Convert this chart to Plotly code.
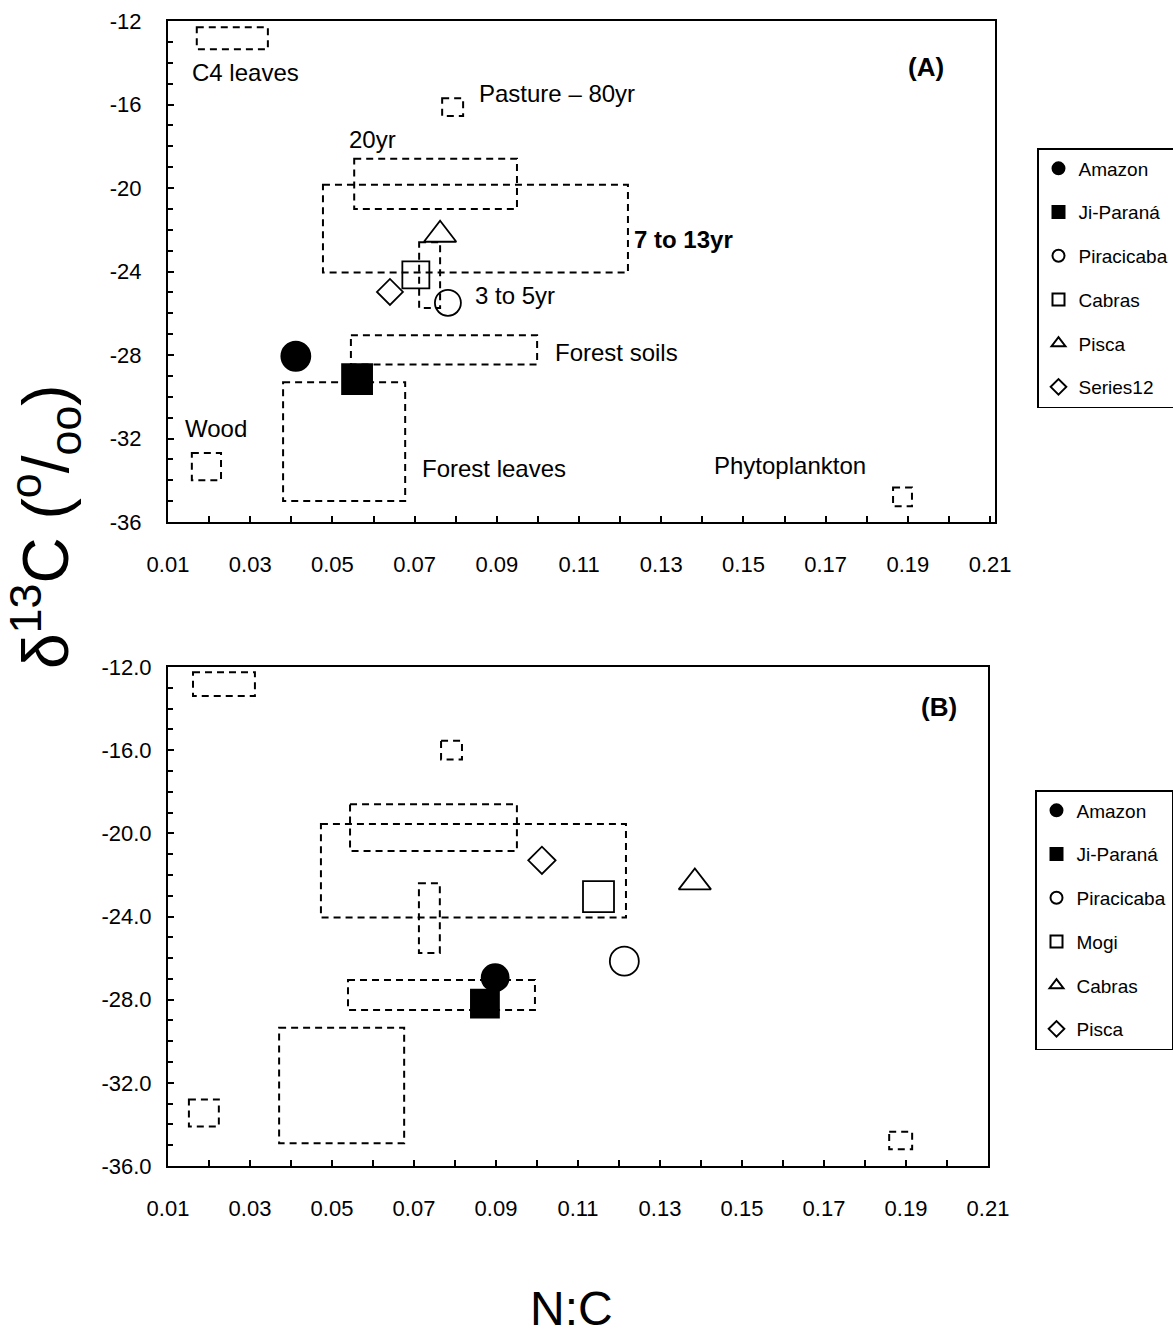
import plotly.graph_objects as go

# ---------------- data ----------------
# dashed source boxes (N:C range, d13C range)
region_names = ["C4 leaves", "Pasture 80yr", "20yr", "7 to 13yr", "3 to 5yr",
                "Forest soils", "Forest leaves", "Wood", "Phytoplankton"]
rect_x0_a = [0.0170, 0.0767, 0.0553, 0.0477, 0.0711, 0.0545, 0.0380, 0.0158, 0.1864]
rect_x1_a = [0.0343, 0.0818, 0.0949, 0.1219, 0.0762, 0.0998, 0.0677, 0.0229, 0.1910]
rect_y0_a = [-12.30, -15.70, -18.60, -19.85, -22.60, -27.05, -29.30, -32.70, -34.35]
rect_y1_a = [-13.35, -16.55, -21.00, -24.05, -25.75, -28.45, -35.00, -34.00, -35.25]

rect_x0_b = [0.0161, 0.0766, 0.0544, 0.0473, 0.0712, 0.0539, 0.0371, 0.0151, 0.1859]
rect_x1_b = [0.0312, 0.0817, 0.0951, 0.1217, 0.0763, 0.0995, 0.0676, 0.0224, 0.1915]
rect_y0_b = [-12.25, -15.55, -18.60, -19.55, -22.40, -27.05, -29.35, -32.80, -34.35]
rect_y1_b = [-13.40, -16.45, -20.85, -24.05, -25.75, -28.50, -34.90, -34.10, -35.20]

# panel A series
series_a = ["Amazon", "Ji-Paraná", "Piracicaba", "Cabras", "Pisca", "Series12"]
x_a = [0.0411, 0.0560, 0.0781, 0.0703, 0.0762, 0.0640]
y_a = [-28.06, -29.16, -25.50, -24.16, -22.24, -24.98]

# panel B series
series_b = ["Amazon", "Ji-Paraná", "Piracicaba", "Mogi", "Cabras", "Pisca"]
x_b = [0.0898, 0.0873, 0.1213, 0.1150, 0.1385, 0.1012]
y_b = [-26.94, -28.19, -26.15, -23.04, -22.36, -21.30]

# text labels of panel A
labels_a = ["C4 leaves", "Pasture – 80yr", "20yr", "7 to 13yr", "3 to 5yr",
            "Forest soils", "Wood", "Forest leaves", "Phytoplankton"]
label_x_a = [0.0154, 0.0852, 0.0536, 0.1229, 0.0842, 0.1037, 0.0137, 0.0713, 0.1424]
label_y_a = [-14.45, -15.46, -17.67, -22.48, -25.17, -27.87, -31.52, -33.44, -33.30]

# ticks
x_tickvals = [0.01, 0.03, 0.05, 0.07, 0.09, 0.11, 0.13, 0.15, 0.17, 0.19, 0.21]
x_ticktext = ["0.01", "0.03", "0.05", "0.07", "0.09", "0.11", "0.13", "0.15", "0.17", "0.19", "0.21"]
y_tickvals = [-36, -32, -28, -24, -20, -16, -12]
y_ticktext_a = ["-36", "-32", "-28", "-24", "-20", "-16", "-12"]
y_ticktext_b = ["-36.0", "-32.0", "-28.0", "-24.0", "-20.0", "-16.0", "-12.0"]

# ---------------- styles ----------------
W, H = 1173, 1338
NARROW = "Liberation Sans Narrow, Arial Narrow, Liberation Sans, sans-serif"
SANS = "Liberation Sans, Arial, sans-serif"

sym_a = ["circle", "square", "circle-open", "square-open", "triangle-up-open", "diamond-open"]
size_a = [29, 30, 26, 27, 28, 20]
sym_b = ["circle", "square", "circle-open", "square-open", "triangle-up-open", "diamond-open"]
size_b = [27, 28, 29, 31, 28, 21]


def px(p):
    return p / W


def py(p):
    return 1 - p / H


fig = go.Figure()

for i, name in enumerate(series_a):
    fig.add_trace(go.Scatter(
        x=[x_a[i]], y=[y_a[i]], mode="markers", name=name,
        xaxis="x", yaxis="y", legend="legend", legendgroup="a%d" % i,
        marker=dict(symbol=sym_a[i], size=size_a[i], color="black",
                    line=dict(color="black", width=1.8))))

for i, name in enumerate(series_b):
    fig.add_trace(go.Scatter(
        x=[x_b[i]], y=[y_b[i]], mode="markers", name=name,
        xaxis="x2", yaxis="y2", legend="legend2", legendgroup="b%d" % i,
        marker=dict(symbol=sym_b[i], size=size_b[i], color="black",
                    line=dict(color="black", width=1.8))))

dash_line = dict(color="black", width=2, dash="7px,5px")
for i in range(len(region_names)):
    fig.add_shape(type="rect", xref="x", yref="y",
                  x0=rect_x0_a[i], x1=rect_x1_a[i], y0=rect_y0_a[i], y1=rect_y1_a[i],
                  line=dash_line, fillcolor="rgba(0,0,0,0)", layer="below")
    fig.add_shape(type="rect", xref="x2", yref="y2",
                  x0=rect_x0_b[i], x1=rect_x1_b[i], y0=rect_y0_b[i], y1=rect_y1_b[i],
                  line=dash_line, fillcolor="rgba(0,0,0,0)", layer="below")

for i, t in enumerate(labels_a):
    bold = (t == "7 to 13yr")
    fig.add_annotation(x=label_x_a[i], y=label_y_a[i], xref="x", yref="y",
                       text="<b>%s</b>" % t if bold else t, showarrow=False,
                       xanchor="left", yanchor="middle",
                       font=dict(family=SANS, size=24, color="black"))

fig.add_annotation(x=0.1944, y=-14.2, xref="x", yref="y", text="<b>(A)</b>",
                   showarrow=False, xanchor="center", yanchor="middle",
                   font=dict(family=SANS, size=26, color="black"))
fig.add_annotation(x=0.198, y=-13.93, xref="x2", yref="y2", text="<b>(B)</b>",
                   showarrow=False, xanchor="center", yanchor="middle",
                   font=dict(family=SANS, size=26, color="black"))

# axis titles
fig.add_annotation(x=px(45), y=py(527), xref="paper", yref="paper",
                   text="δ<sup>13</sup>C (<sup>o</sup>/<sub>oo</sub>)", textangle=-90,
                   showarrow=False, xanchor="center", yanchor="middle",
                   font=dict(family=SANS, size=64, color="black"))
fig.add_annotation(x=px(571), y=py(1308), xref="paper", yref="paper",
                   text="N:C", showarrow=False, xanchor="center", yanchor="middle",
                   font=dict(family=SANS, size=48, color="black"))

common_x = dict(showgrid=False, zeroline=False, showline=True, linecolor="black",
                linewidth=2, mirror=True, ticks="inside", ticklen=6, tickwidth=1.5,
                tickcolor="black", tickmode="array", tickvals=x_tickvals, ticktext=x_ticktext,
                tickfont=dict(family=NARROW, size=22, color="black"),
                ticklabelstandoff=22,
                minor=dict(ticks="inside", ticklen=6, tickwidth=1.5, tickcolor="black",
                           tick0=0.01, dtick=0.01, showgrid=False))
common_y = dict(showgrid=False, zeroline=False, showline=True, linecolor="black",
                linewidth=2, mirror=True, ticks="inside", ticklen=6, tickwidth=1.5,
                tickcolor="black", tickmode="array", tickvals=y_tickvals,
                tickfont=dict(family=NARROW, size=22, color="black"),
                range=[-36, -12],
                minor=dict(ticks="inside", ticklen=5, tickwidth=1.5, tickcolor="black",
                           tick0=-36, dtick=1, showgrid=False))

legend_common = dict(xanchor="left", yanchor="top", bordercolor="black", borderwidth=1.5,
                     bgcolor="white", itemsizing="constant", tracegroupgap=16,
                     font=dict(family=NARROW, size=19, color="black"))

fig.update_layout(
    width=W, height=H, margin=dict(l=0, r=0, t=0, b=0, autoexpand=False),
    plot_bgcolor="white", paper_bgcolor="white",
    xaxis=dict(common_x, domain=[px(168), px(995)], range=[0.01, 0.2112], anchor="y"),
    yaxis=dict(common_y, domain=[py(522), py(21)], ticktext=y_ticktext_a, anchor="x",
               ticklabelstandoff=20),
    xaxis2=dict(common_x, domain=[px(168), px(988)], range=[0.01, 0.21], anchor="y2"),
    yaxis2=dict(common_y, domain=[py(1166), py(667)], ticktext=y_ticktext_b, anchor="x2",
                ticklabelstandoff=10),
    legend=dict(legend_common, x=px(1037), y=py(148)),
    legend2=dict(legend_common, x=px(1035), y=py(790)),
)

fig.write_html("out.html")
